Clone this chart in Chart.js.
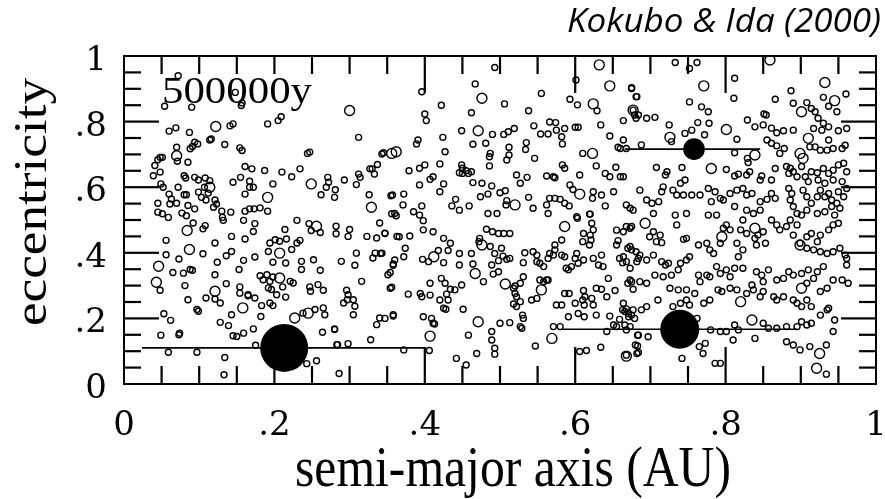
<!DOCTYPE html>
<html>
<head>
<meta charset="utf-8">
<title>Eccentricity vs semi-major axis</title>
<script src="https://cdn.jsdelivr.net/npm/chart.js@4.4.1/dist/chart.umd.min.js"></script>
<style>
  html, body { margin: 0; padding: 0; background: #fff; }
  #wrap { position: relative; width: 885px; height: 499px; }
</style>
</head>
<body>
<div id="wrap"><canvas id="ecc"></canvas></div>
<script>
// Axis ticks and labels
const tickValues = [0, 0.2, 0.4, 0.6, 0.8, 1];
const xTickLabels = ['0', '.2', '.4', '.6', '.8', '1'];
const yTickLabels = ['0', '.2', '.4', '.6', '.8', '1'];

// Protoplanets: semi-major axis, eccentricity, and the extent of their horizontal bars
const protoA = [0.213, 0.739, 0.758];
const protoE = [0.11, 0.167, 0.716];
const barFrom = [0.024, 0.583, 0.666];
const barTo = [0.401, 0.895, 0.846];

// Planetesimals [a, e], small ones
const inner = [
  [0.072,0.94],[0.148,0.889],[0.156,0.849],[0.157,0.857],[0.054,0.847],[0.09,0.844],
  [0.209,0.815],[0.205,0.803],[0.191,0.793],[0.145,0.793],[0.141,0.787],
  [0.06,0.771],[0.069,0.781],[0.087,0.767],[0.312,0.752],[0.114,0.744],[0.116,0.747],
  [0.134,0.73],[0.094,0.737],[0.098,0.732],[0.091,0.724],[0.07,0.722],[0.088,0.717],[0.154,0.72],[0.157,0.712],
  [0.247,0.707],[0.244,0.703],[0.343,0.701],[0.051,0.691],[0.045,0.684],[0.041,0.666],[0.048,0.691],
  [0.071,0.679],[0.085,0.676],[0.161,0.663],[0.17,0.656],[0.187,0.651],[0.21,0.646],[0.234,0.656],
  [0.223,0.632],[0.271,0.63],[0.272,0.615],[0.269,0.6],[0.281,0.592],[0.293,0.622],
  [0.312,0.64],[0.309,0.608],[0.314,0.63],[0.33,0.656],[0.333,0.64],[0.337,0.669],[0.327,0.656],
  [0.355,0.574],[0.326,0.577],[0.356,0.519],[0.362,0.513],
  [0.039,0.635],[0.048,0.646],[0.08,0.635],[0.082,0.628],
  [0.094,0.63],[0.099,0.622],[0.108,0.628],[0.114,0.62],[0.107,0.6],
  [0.049,0.61],[0.052,0.6],[0.072,0.6],
  [0.06,0.579],[0.063,0.564],[0.061,0.549],[0.07,0.551],
  [0.099,0.585],[0.103,0.569],[0.109,0.561],[0.112,0.582],
  [0.121,0.561],[0.123,0.549],[0.08,0.577],[0.083,0.577],
  [0.145,0.615],[0.155,0.63],[0.167,0.618],[0.172,0.6],[0.167,0.6],
  [0.161,0.579],[0.198,0.61],[0.262,0.577],[0.28,0.569],
  [0.045,0.551],[0.045,0.524],[0.085,0.544],[0.094,0.534],
  [0.119,0.539],[0.13,0.527],[0.142,0.524],[0.131,0.508],
  [0.161,0.527],[0.167,0.534],[0.173,0.534],[0.181,0.537],[0.191,0.527],
  [0.051,0.519],[0.059,0.508],[0.077,0.521],[0.083,0.513],
  [0.105,0.473],[0.092,0.491],[0.108,0.483],[0.056,0.438],
  [0.121,0.43],[0.143,0.45],[0.161,0.442],[0.174,0.489],[0.172,0.465],[0.159,0.499],[0.132,0.499],
  [0.194,0.43],[0.201,0.44],[0.207,0.435],[0.216,0.442],[0.223,0.41],[0.23,0.43],[0.234,0.438],
  [0.214,0.471],[0.23,0.499],[0.246,0.489],[0.249,0.468],[0.261,0.462],
  [0.282,0.481],[0.282,0.458],[0.3,0.471],[0.298,0.45],
  [0.323,0.45],[0.336,0.445],[0.347,0.46],[0.34,0.491],[0.363,0.45],
  [0.334,0.399],[0.343,0.399],[0.331,0.384],[0.056,0.394],[0.073,0.381],
  [0.065,0.34],[0.079,0.338],[0.088,0.349],[0.091,0.347],
  [0.105,0.397],[0.124,0.371],[0.136,0.391],[0.143,0.404],[0.159,0.377],[0.174,0.387],
  [0.192,0.404],[0.198,0.371],[0.215,0.369],[0.236,0.374],[0.236,0.349],
  [0.252,0.379],[0.261,0.347],[0.289,0.374],[0.307,0.362],[0.309,0.399],
  [0.358,0.362],[0.354,0.34],[0.351,0.333],[0.153,0.349],[0.121,0.333],
  [0.048,0.286],[0.081,0.3],[0.136,0.306],[0.154,0.296],[0.154,0.277],[0.165,0.272],
  [0.181,0.33],[0.185,0.318],[0.19,0.333],[0.194,0.313],[0.198,0.326],
  [0.192,0.293],[0.196,0.288],[0.203,0.272],[0.215,0.265],
  [0.211,0.296],[0.221,0.313],[0.225,0.308],
  [0.247,0.296],[0.248,0.283],[0.258,0.303],[0.265,0.286],
  [0.296,0.286],[0.298,0.272],[0.297,0.257],[0.292,0.247],[0.305,0.257],[0.307,0.237],[0.316,0.313],
  [0.085,0.257],[0.097,0.227],[0.099,0.222],[0.109,0.262],[0.121,0.259],[0.128,0.247],
  [0.174,0.262],[0.183,0.239],[0.194,0.247],[0.198,0.239],[0.165,0.269],[0.182,0.206],
  [0.238,0.216],[0.254,0.227],[0.265,0.232],[0.267,0.211],[0.28,0.166],[0.283,0.12],[0.305,0.211],
  [0.358,0.211],[0.34,0.201],[0.336,0.181],
  [0.053,0.214],[0.062,0.194],[0.128,0.188],[0.139,0.178],[0.143,0.211],[0.172,0.168],
  [0.159,0.155],[0.15,0.145],[0.145,0.147],[0.074,0.155],[0.073,0.15],[0.049,0.149],[0.175,0.118],
  [0.059,0.097],[0.097,0.097],[0.134,0.081],[0.133,0.028],[0.243,0.062],[0.256,0.071],
  [0.264,0.158],[0.28,0.168],[0.298,0.123],[0.284,0.12],[0.328,0.135],[0.286,0.032]
];

const middle = [
  [0.493,0.965],[0.601,0.927],[0.396,0.891],[0.467,0.915],[0.555,0.886],
  [0.675,0.901],[0.682,0.876],[0.506,0.854],[0.422,0.85],[0.462,0.827],[0.538,0.833],
  [0.593,0.868],[0.603,0.851],[0.629,0.833],[0.677,0.835],[0.679,0.82],[0.681,0.81],
  [0.4,0.823],[0.402,0.803],[0.634,0.79],[0.664,0.803],[0.449,0.772],
  [0.49,0.761],[0.505,0.761],[0.511,0.769],[0.519,0.779],[0.545,0.787],
  [0.566,0.799],[0.574,0.797],[0.575,0.774],[0.586,0.779],[0.6,0.783],[0.604,0.783],
  [0.554,0.762],[0.564,0.762],[0.424,0.752],[0.582,0.754],[0.583,0.732],[0.646,0.756],
  [0.391,0.744],[0.389,0.732],[0.464,0.731],[0.481,0.734],[0.535,0.736],[0.534,0.715],
  [0.657,0.722],[0.668,0.718],[0.345,0.705],[0.427,0.708],[0.487,0.703],[0.486,0.693],
  [0.512,0.722],[0.509,0.683],[0.512,0.698],[0.546,0.688],[0.61,0.703],
  [0.449,0.668],[0.45,0.658],[0.42,0.671],[0.4,0.668],[0.393,0.658],[0.379,0.65],
  [0.462,0.647],[0.458,0.642],[0.464,0.614],[0.486,0.665],[0.583,0.668],[0.586,0.658],
  [0.628,0.665],[0.654,0.661],[0.606,0.637],[0.64,0.642],[0.646,0.632],[0.66,0.632],[0.651,0.586],
  [0.522,0.637],[0.536,0.63],[0.562,0.634],[0.571,0.632],[0.573,0.629],
  [0.411,0.632],[0.407,0.624],[0.393,0.607],[0.425,0.61],
  [0.446,0.644],[0.45,0.642],[0.455,0.65],[0.476,0.612],[0.489,0.604],[0.527,0.612],
  [0.593,0.607],[0.597,0.593],[0.624,0.586],[0.635,0.576],[0.623,0.566],
  [0.357,0.576],[0.372,0.579],[0.42,0.586],[0.5,0.583],[0.507,0.589],[0.484,0.579],[0.474,0.571],
  [0.538,0.569],[0.566,0.566],[0.573,0.566],[0.58,0.563],[0.586,0.551],[0.592,0.543],
  [0.509,0.559],[0.508,0.546],[0.441,0.563],[0.436,0.543],[0.446,0.53],
  [0.459,0.543],[0.64,0.543],[0.668,0.546],[0.677,0.53],
  [0.371,0.546],[0.36,0.52],[0.385,0.525],[0.396,0.543],[0.393,0.515],
  [0.484,0.52],[0.496,0.52],[0.544,0.536],[0.562,0.546],[0.564,0.52],[0.602,0.51],[0.62,0.518],
  [0.366,0.449],[0.38,0.451],[0.347,0.459],[0.398,0.498],[0.398,0.47],[0.411,0.464],
  [0.425,0.444],[0.434,0.429],[0.431,0.407],[0.374,0.414],[0.372,0.388],[0.36,0.378],[0.358,0.366],
  [0.397,0.38],[0.405,0.373],[0.418,0.407],[0.425,0.37],
  [0.446,0.398],[0.446,0.363],[0.462,0.398],[0.464,0.366],[0.473,0.444],[0.472,0.434],
  [0.482,0.472],[0.49,0.464],[0.498,0.459],[0.505,0.459],[0.513,0.459],
  [0.487,0.419],[0.493,0.398],[0.502,0.414],[0.504,0.39],[0.509,0.38],[0.513,0.383],[0.498,0.376],[0.489,0.363],
  [0.491,0.335],[0.498,0.342],[0.478,0.312],
  [0.422,0.322],[0.427,0.307],[0.434,0.289],[0.44,0.287],[0.429,0.274],[0.449,0.302],
  [0.407,0.307],[0.394,0.276],[0.407,0.271],[0.396,0.266],[0.378,0.274],[0.354,0.292],[0.356,0.295],
  [0.42,0.256],[0.431,0.256],[0.425,0.231],[0.428,0.228],[0.451,0.228],
  [0.358,0.207],[0.398,0.205],[0.409,0.2],[0.413,0.183],[0.411,0.185],
  [0.5,0.185],[0.513,0.187],[0.489,0.16],[0.489,0.134],[0.493,0.109],[0.493,0.091],
  [0.458,0.149],[0.469,0.093],[0.372,0.104],[0.406,0.102],[0.442,0.078],[0.455,0.058],
  [0.52,0.276],[0.522,0.266],[0.518,0.244],[0.522,0.236],[0.527,0.251],
  [0.53,0.21],[0.531,0.2],[0.527,0.175],[0.529,0.17],[0.542,0.256],[0.549,0.261],
  [0.527,0.307],[0.531,0.327],[0.549,0.373],[0.553,0.368],[0.558,0.358],
  [0.533,0.4],[0.531,0.37],[0.544,0.403],[0.549,0.393],[0.562,0.317],[0.564,0.317],
  [0.573,0.424],[0.582,0.439],[0.573,0.409],[0.582,0.393],[0.586,0.388],[0.588,0.353],
  [0.603,0.505],[0.619,0.518],[0.622,0.49],[0.62,0.454],[0.621,0.439],[0.619,0.424],[0.624,0.47],
  [0.602,0.398],[0.604,0.368],[0.6,0.383],[0.595,0.358],[0.591,0.348],
  [0.566,0.398],[0.571,0.393],[0.564,0.383],[0.611,0.459],[0.61,0.434],[0.611,0.378],
  [0.624,0.383],[0.631,0.363],[0.635,0.393],[0.637,0.358],[0.644,0.322],
  [0.655,0.469],[0.668,0.48],[0.675,0.48],[0.657,0.437],[0.655,0.424],[0.67,0.414],[0.675,0.409],
  [0.659,0.383],[0.663,0.37],[0.673,0.353],[0.682,0.373],[0.684,0.383],
  [0.67,0.307],[0.675,0.312],[0.677,0.289],
  [0.663,0.226],[0.666,0.221],[0.668,0.229],[0.659,0.197],[0.679,0.2],[0.675,0.21],[0.666,0.18],[0.671,0.205],
  [0.611,0.285],[0.613,0.266],[0.61,0.256],[0.612,0.241],[0.622,0.261],[0.624,0.241],
  [0.628,0.292],[0.635,0.289],[0.642,0.266],[0.653,0.285],
  [0.575,0.241],[0.582,0.241],[0.6,0.246],
  [0.591,0.205],[0.604,0.215],[0.612,0.205],[0.628,0.21],[0.646,0.207],
  [0.571,0.175],[0.58,0.175],[0.547,0.116],
  [0.606,0.099],[0.615,0.102],[0.634,0.112],[0.642,0.16],
  [0.683,0.116],[0.682,0.093],[0.683,0.149],[0.651,0.18],[0.655,0.175],
  [0.586,0.276],[0.592,0.276],[0.553,0.317],[0.558,0.312],[0.52,0.299],[0.518,0.292],[0.347,0.2],[0.341,0.398]
];

const outer = [
  [0.733,0.98],[0.752,0.962],[0.762,0.98],[0.812,0.932],
  [0.675,0.903],[0.887,0.894],[0.811,0.871],[0.681,0.876],[0.866,0.868],[0.752,0.86],
  [0.93,0.874],[0.937,0.847],[0.96,0.884],
  [0.89,0.856],[0.908,0.858],[0.914,0.84],[0.919,0.83],
  [0.684,0.82],[0.695,0.81],[0.706,0.813],
  [0.768,0.845],[0.777,0.83],[0.851,0.823],[0.854,0.82],[0.948,0.83],
  [0.725,0.79],[0.763,0.797],[0.778,0.795],[0.829,0.805],
  [0.839,0.784],[0.85,0.79],[0.861,0.78],[0.868,0.766],[0.877,0.772],[0.89,0.774],
  [0.923,0.81],[0.93,0.795],[0.928,0.774],[0.917,0.779],[0.937,0.784],[0.95,0.772],[0.961,0.779],
  [0.664,0.744],[0.66,0.718],[0.688,0.729],[0.728,0.739],[0.746,0.764],[0.755,0.774],
  [0.772,0.76],[0.815,0.746],[0.829,0.688],[0.83,0.675],[0.812,0.705],
  [0.855,0.744],[0.861,0.734],[0.868,0.726],[0.878,0.718],[0.872,0.703],
  [0.937,0.744],[0.943,0.718],[0.955,0.718],[0.959,0.728],
  [0.912,0.723],[0.919,0.723],[0.926,0.713],[0.935,0.713],
  [0.801,0.654],[0.708,0.66],[0.742,0.66],[0.72,0.637],[0.722,0.647],
  [0.812,0.634],[0.817,0.64],[0.832,0.647],[0.828,0.637],[0.848,0.634],[0.846,0.622],
  [0.866,0.657],[0.861,0.622],
  [0.881,0.663],[0.886,0.658],[0.884,0.642],[0.89,0.647],[0.895,0.632],[0.901,0.663],
  [0.906,0.632],[0.914,0.647],[0.922,0.644],[0.93,0.657],[0.937,0.642],[0.943,0.652],[0.95,0.668],[0.957,0.673],[0.961,0.647],
  [0.91,0.617],[0.923,0.622],[0.932,0.612],[0.943,0.622],[0.955,0.617],
  [0.717,0.601],[0.715,0.586],[0.73,0.591],[0.735,0.576],[0.744,0.576],[0.755,0.576],[0.766,0.576],[0.746,0.622],[0.74,0.612],
  [0.777,0.596],[0.786,0.586],[0.793,0.566],[0.781,0.556],[0.797,0.561],[0.806,0.581],
  [0.815,0.591],[0.823,0.596],[0.828,0.576],[0.835,0.581],
  [0.846,0.556],[0.855,0.563],[0.861,0.581],[0.866,0.566],
  [0.812,0.541],[0.828,0.53],[0.837,0.52],[0.846,0.53],
  [0.884,0.596],[0.888,0.581],[0.886,0.561],[0.89,0.541],[0.895,0.52],
  [0.903,0.591],[0.908,0.571],[0.914,0.551],[0.922,0.571],[0.926,0.591],[0.932,0.571],[0.937,0.581],[0.941,0.561],[0.948,0.551],[0.95,0.586],[0.957,0.571],[0.961,0.596],
  [0.908,0.53],[0.922,0.52],[0.932,0.525],[0.941,0.541],[0.945,0.515],[0.952,0.536],
  [0.664,0.632],[0.673,0.536],[0.704,0.52],[0.686,0.591],[0.695,0.561],[0.702,0.551],[0.711,0.556],
  [0.733,0.515],[0.748,0.52],[0.777,0.515],[0.788,0.515],
  [0.704,0.464],[0.713,0.454],[0.699,0.449],[0.708,0.434],[0.715,0.431],
  [0.673,0.475],[0.664,0.464],[0.735,0.485],
  [0.744,0.441],[0.748,0.444],[0.764,0.424],[0.775,0.429],[0.779,0.409],[0.784,0.398],
  [0.793,0.429],[0.797,0.475],[0.801,0.485],[0.806,0.47],
  [0.82,0.47],[0.823,0.5],[0.828,0.459],[0.843,0.454],[0.85,0.464],[0.839,0.444],
  [0.815,0.429],[0.817,0.388],[0.823,0.409],[0.841,0.424],[0.853,0.429],
  [0.861,0.5],[0.868,0.485],[0.872,0.47],[0.881,0.48],[0.886,0.5],[0.895,0.485],[0.901,0.515],
  [0.89,0.454],[0.899,0.429],[0.908,0.449],[0.914,0.459],[0.922,0.434],[0.926,0.454],[0.937,0.47],[0.943,0.485],[0.95,0.49],
  [0.908,0.414],[0.917,0.409],[0.926,0.403],[0.935,0.398],[0.943,0.403],
  [0.952,0.414],[0.959,0.393],[0.961,0.383],[0.961,0.363],
  [0.673,0.419],[0.681,0.403],[0.664,0.388],[0.668,0.373],
  [0.686,0.393],[0.695,0.378],[0.704,0.393],[0.715,0.373],[0.72,0.363],[0.724,0.368],
  [0.74,0.368],[0.748,0.378],[0.752,0.388],[0.737,0.348],
  [0.706,0.332],[0.717,0.327],[0.728,0.332],[0.673,0.317],[0.686,0.312],[0.695,0.307],
  [0.764,0.332],[0.775,0.332],[0.766,0.312],[0.779,0.327],
  [0.788,0.358],[0.793,0.337],[0.801,0.348],[0.806,0.327],[0.812,0.353],[0.823,0.353],
  [0.835,0.302],[0.841,0.342],[0.848,0.332],[0.85,0.312],[0.857,0.348],
  [0.868,0.317],[0.877,0.322],[0.884,0.342],[0.89,0.332],[0.901,0.337],[0.91,0.348],[0.922,0.342],[0.93,0.358],
  [0.908,0.307],[0.917,0.322],[0.926,0.282],[0.935,0.292],[0.943,0.317],[0.955,0.317],[0.963,0.307],
  [0.726,0.292],[0.737,0.287],[0.748,0.287],[0.759,0.276],
  [0.771,0.246],[0.779,0.256],[0.79,0.287],[0.795,0.282],
  [0.806,0.292],[0.815,0.287],[0.828,0.276],
  [0.837,0.287],[0.846,0.266],[0.85,0.282],[0.864,0.266],[0.868,0.256],[0.877,0.266],
  [0.89,0.256],[0.895,0.246],[0.901,0.236],[0.908,0.256],[0.914,0.236],[0.937,0.231],[0.926,0.21],
  [0.677,0.226],[0.671,0.215],[0.664,0.246],[0.688,0.226],[0.695,0.236],
  [0.71,0.256],[0.73,0.236],[0.74,0.246],[0.748,0.256],[0.752,0.241],
  [0.748,0.205],[0.762,0.2],[0.78,0.165],[0.793,0.16],[0.801,0.16],
  [0.812,0.18],[0.817,0.165],
  [0.85,0.185],[0.857,0.17],[0.868,0.17],[0.881,0.175],
  [0.895,0.175],[0.901,0.19],[0.908,0.18],[0.914,0.185],[0.935,0.226],[0.943,0.16],[0.945,0.195],
  [0.668,0.165],[0.673,0.175],[0.684,0.149],[0.697,0.144],[0.68,0.119],[0.668,0.088],[0.684,0.096],
  [0.742,0.078],[0.765,0.114],[0.77,0.093],[0.773,0.124],[0.786,0.063],[0.793,0.063],
  [0.81,0.134],[0.839,0.139],[0.881,0.129],[0.89,0.119],[0.899,0.104],[0.912,0.114],[0.934,0.119],
  [0.934,0.03]
];

// Somewhat heavier planetesimals, drawn as larger rings
const larger = [
  [0.3,0.834],[0.122,0.785],[0.356,0.703],[0.07,0.696],[0.249,0.61],[0.329,0.539],[0.114,0.6],[0.191,0.569],
  [0.084,0.468],[0.087,0.41],[0.256,0.481],[0.046,0.359],[0.207,0.399],[0.043,0.31],[0.121,0.283],
  [0.207,0.323],[0.158,0.232],[0.227,0.201],[0.245,0.216],
  [0.632,0.973],[0.646,0.909],[0.476,0.871],[0.624,0.854],[0.471,0.772],[0.362,0.708],[0.623,0.703],
  [0.606,0.579],[0.52,0.546],
  [0.412,0.388],[0.476,0.424],[0.467,0.337],[0.507,0.305],[0.471,0.19],[0.407,0.146],[0.555,0.287],
  [0.586,0.48],[0.569,0.139],[0.668,0.085],
  [0.859,0.988],[0.771,0.909],[0.932,0.919],[0.945,0.864],[0.901,0.83],[0.677,0.835],[0.726,0.752],
  [0.801,0.776],[0.839,0.698],[0.91,0.749],[0.899,0.703],[0.903,0.688],[0.781,0.657],
  [0.693,0.49],[0.795,0.449],[0.839,0.475],[0.899,0.424],[0.901,0.292],[0.82,0.251],[0.835,0.195],
  [0.925,0.093],[0.921,0.048]
];

const toXY = list => list.map(([a, e]) => ({ x: a, y: e }));

// one dataset per protoplanet bar
const barSets = protoA.map((_, i) => ({
  type: 'line',
  data: [{ x: barFrom[i], y: protoE[i] }, { x: barTo[i], y: protoE[i] }],
  borderColor: '#000',
  borderWidth: 1.6,
  pointRadius: 0,
  order: 1
}));

// text helper: squeezes/stretches horizontally so the text spans a given width
function fitText(ctx, text, x, y, width, align) {
  const w = ctx.measureText(text).width;
  ctx.save();
  ctx.translate(x, y);
  ctx.scale(width / w, 1);
  ctx.textAlign = align;
  ctx.fillText(text, 0, 0);
  ctx.restore();
}

// frame, inward ticks, labels and titles
const framePlugin = {
  id: 'frame',
  afterDraw(chart) {
    const ctx = chart.ctx;
    const ca = chart.chartArea;
    const xs = chart.scales.x;
    const ys = chart.scales.y;
    ctx.save();
    ctx.strokeStyle = '#000';
    ctx.fillStyle = '#000';
    ctx.lineWidth = 2;
    ctx.strokeRect(ca.left, ca.top, ca.right - ca.left, ca.bottom - ca.top);

    // ticks every 0.05, longer at multiples of 0.2 (top 0.2 stays short)
    for (let i = 1; i < 20; i++) {
      const major = i % 4 === 0;
      const px = xs.getPixelForValue(i / 20);
      const py = ys.getPixelForValue(i / 20);
      const lenB = major ? 37 : 18;
      const lenT = (major && i !== 4) ? 37 : 18;
      const lenS = major ? 35 : 17;
      ctx.fillRect(px - 1.1, ca.bottom - lenB, 2.2, lenB);
      ctx.fillRect(px - 1.1, ca.top, 2.2, lenT);
      ctx.fillRect(ca.left, py - 1.1, lenS, 2.2);
      ctx.fillRect(ca.right - lenS, py - 1.1, lenS, 2.2);
    }

    // tick labels
    ctx.font = '34px "DejaVu Serif"';
    ctx.textBaseline = 'alphabetic';
    tickValues.forEach((v, i) => {
      ctx.textAlign = 'center';
      ctx.fillText(xTickLabels[i], xs.getPixelForValue(v), 435);
      ctx.textAlign = 'right';
      ctx.fillText(yTickLabels[i], 107, ys.getPixelForValue(v) + 14);
    });

    // axis titles
    ctx.font = '58px "Liberation Serif"';
    fitText(ctx, 'semi-major axis (AU)', 513, 486, 436, 'center');

    ctx.font = '47px "Liberation Serif"';
    ctx.save();
    ctx.translate(46, 202);
    ctx.rotate(-Math.PI / 2);
    fitText(ctx, 'eccentricity', 0, 0, 248, 'center');
    ctx.restore();

    // elapsed time inside the frame
    ctx.font = '38px "Liberation Serif"';
    fitText(ctx, '500000y', 162, 103, 150, 'left');

    // citation
    ctx.font = 'italic 32px "Open Sans"';
    fitText(ctx, 'Kokubo & Ida (2000)', 881, 32, 314, 'right');
    ctx.restore();
  }
};

new Chart(document.getElementById('ecc'), {
  type: 'scatter',
  data: {
    datasets: [
      {
        data: protoA.map((a, i) => ({ x: a, y: protoE[i] })),
        pointRadius: [24, 19.5, 10.8],
        backgroundColor: '#000',
        borderColor: '#000',
        borderWidth: 0,
        order: 0
      },
      ...barSets,
      {
        data: toXY(larger),
        pointRadius: 5,
        backgroundColor: 'rgba(0,0,0,0)',
        borderColor: '#000',
        borderWidth: 1.4,
        order: 2
      },
      {
        data: toXY(inner.concat(middle, outer)),
        pointRadius: 3,
        backgroundColor: 'rgba(0,0,0,0)',
        borderColor: '#000',
        borderWidth: 1.4,
        order: 3
      }
    ]
  },
  options: {
    responsive: true,
    maintainAspectRatio: false,
    animation: false,
    events: [],
    layout: { autoPadding: false, padding: { left: 124, top: 56, right: 9, bottom: 115 } },
    plugins: { legend: { display: false }, tooltip: { enabled: false } },
    scales: {
      x: { type: 'linear', min: 0, max: 1, display: false },
      y: { type: 'linear', min: 0, max: 1, display: false }
    }
  },
  plugins: [framePlugin]
});
</script>
</body>
</html>
